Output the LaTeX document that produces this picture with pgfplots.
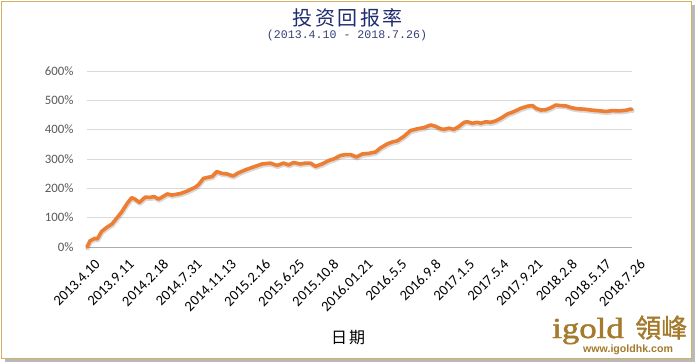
\documentclass[border=0pt]{standalone}
\usepackage{pgfplots}
\pgfplotsset{compat=1.18}
\usepackage{fontspec}
\setmainfont{Carlito}
\newfontfamily\cjk{Noto Sans CJK SC}
\newfontfamily\cjktc[AutoFakeBold=1.2]{Noto Sans CJK TC}
\newfontfamily\mono{Liberation Mono}
\newfontfamily\logoserif[AutoFakeBold=1.5]{Liberation Serif}
\newfontfamily\logosans{Liberation Sans}
\definecolor{navy}{HTML}{1F2C6E}
\definecolor{subnavy}{HTML}{34407A}
\definecolor{frame}{HTML}{D4B064}
\definecolor{gold}{HTML}{A47A2C}
\definecolor{lineorange}{HTML}{ED7D31}
\definecolor{gridgray}{HTML}{D9D9D9}
\definecolor{ticklab}{HTML}{595959}
\begin{document}
\begin{tikzpicture}[x=1pt,y=1pt]
\useasboundingbox (0,0) rectangle (695,362);
% shadow and frame
\fill[gray!55] (4.5,0) rectangle (695,357);
\filldraw[fill=white,draw=frame,line width=1.6pt] (1.5,3.5) rectangle (691.5,360.5);
% titles
\node[text=navy,font=\cjk\fontsize{20}{22}\selectfont] at (347.5,344) {投\hspace{2.5pt}资\hspace{2.5pt}回\hspace{2.5pt}报\hspace{2.5pt}率};
\node[text=subnavy,font=\mono\fontsize{11.6}{13}\selectfont] at (347,326) {(2013.4.10 - 2018.7.26)};
\begin{axis}[
  at={(87pt,115pt)}, anchor=south west,
  scale only axis, width=545pt, height=176pt,
  xmin=0, xmax=16, ymin=0, ymax=600,
  axis x line*=bottom, axis y line*=left,
  y axis line style={draw=none},
  x axis line style={draw=gray!65, line width=0.8pt},
  tick style={draw=none},
  ymajorgrids, grid style={gridgray, line width=0.8pt},
  ytick={0,100,...,600},
  yticklabel={\pgfmathprintnumber{\tick}\%},
  /pgf/number format/assume math mode=true,
  yticklabel style={font=\fontsize{12.8}{14}\selectfont, text=ticklab, xshift=-10pt},
  xtick={0,1,...,16},
  xticklabels={2013.4.10,2013.9.11,2014.2.18,2014.7.31,2014.11.13,2015.2.16,2015.6.25,2015.10.8,2016.01.21,2016.5.5,2016.9.8,2017.1.5,2017.5.4,2017.9.21,2018.2.8,2018.5.17,2018.7.26},
  xticklabel style={font=\fontsize{14.5}{16}\selectfont, rotate=45, anchor=north east, inner sep=1pt, xshift=-2pt, yshift=-12pt},
  clip=false,
]
\pgfplotstableread{
x y
0 0
0.09 21
0.24 30
0.30 27
0.43 53
0.58 67
0.73 78
0.87 98
1.02 120
1.17 147
1.31 168
1.41 163
1.54 152
1.71 170
1.85 169
1.97 172
2.10 163
2.23 172
2.36 181
2.49 177
2.74 182
2.93 190
3.18 204
3.27 212
3.42 234
3.57 238
3.67 240
3.81 257
3.96 251
4.11 249
4.29 242
4.45 253
4.65 263
4.79 269
4.99 277
5.14 283
5.38 286
5.58 278
5.77 286
5.92 280
6.07 288
6.26 283
6.41 286
6.56 286
6.71 275
6.90 283
7.10 295
7.24 300
7.44 312
7.59 315
7.74 315
7.91 307
8.08 317
8.27 319
8.47 324
8.62 338
8.81 351
8.96 358
9.11 362
9.30 377
9.50 397
9.70 403
9.89 407
10.09 416
10.24 411
10.38 403
10.48 401
10.63 405
10.77 401
10.92 411
11.07 425
11.17 427
11.31 422
11.46 425
11.56 422
11.71 427
11.85 425
12.00 430
12.15 439
12.34 453
12.54 462
12.74 473
12.93 480
13.08 482
13.18 473
13.32 467
13.47 468
13.62 475
13.76 484
13.91 482
14.06 481
14.21 475
14.40 471
14.60 470
14.79 467
14.99 465
15.24 462
15.43 465
15.62 464
15.82 466
15.95 470
16.0 469
}\datatable
\addplot[draw=black, opacity=0.15, line width=4pt, line join=round, line cap=round, yshift=-1.6pt, xshift=0.6pt] table {\datatable};
\addplot[draw=lineorange, line width=3.6pt, line join=round, line cap=round] table {\datatable};
\end{axis}
% x label
\node[font=\cjk\fontsize{16}{18}\selectfont] at (348,24) {日\hspace{2pt}期};
% logo
\node[text=gold, font=\logoserif\bfseries\fontsize{29}{30}\selectfont, inner sep=0pt, anchor=base west, xscale=1.2] at (552,24) {igold};
\node[text=gold, font=\cjktc\bfseries\fontsize{26}{28}\selectfont, inner sep=0pt, anchor=base west] at (635,24.5) {領峰};
\node[text=gold, font=\logosans\bfseries\fontsize{10.6}{12}\selectfont, inner sep=0pt, anchor=base west] at (583,9.5) {www.igoldhk.com};
\end{tikzpicture}
\end{document}
